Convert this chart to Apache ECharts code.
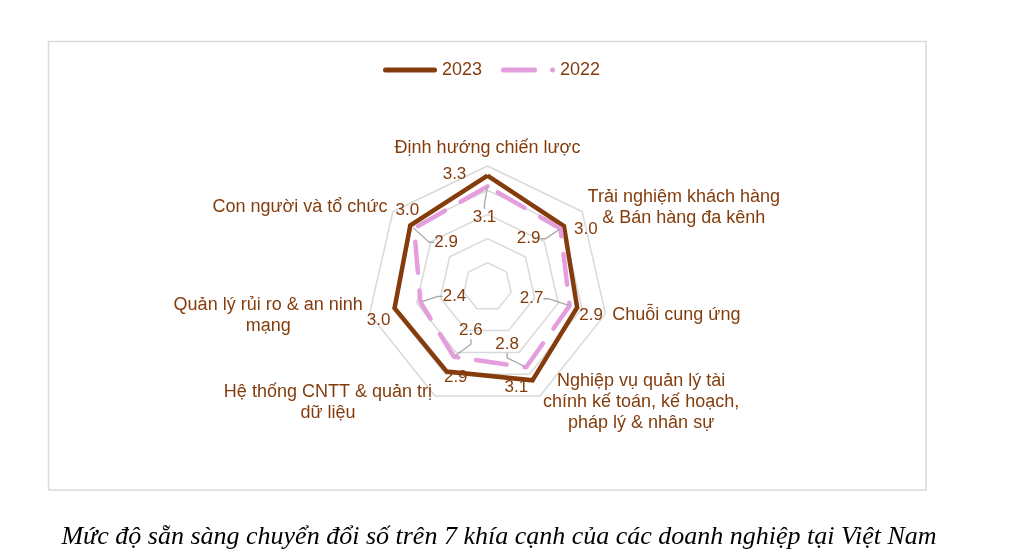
<!DOCTYPE html>
<html>
<head>
<meta charset="utf-8">
<script src="https://cdn.jsdelivr.net/npm/echarts@6/dist/echarts.min.js"></script>
<style>
html,body{margin:0;padding:0;background:#fff;}
#chart{width:1010px;height:554px;}
</style>
</head>
<body>
<div id="chart"></div>
<script>
// Indicators in clockwise order starting at the top
const categories = [
  'Định hướng chiến lược',
  'Trải nghiệm khách hàng\n& Bán hàng đa kênh',
  'Chuỗi cung ứng',
  'Nghiệp vụ quản lý tài\nchính kế toán, kế hoạch,\npháp lý & nhân sự',
  'Hệ thống CNTT & quản trị\ndữ liệu',
  'Quản lý rủi ro & an ninh\nmạng',
  'Con người và tổ chức'
];
const values2023 = [3.30, 3.02, 2.90, 3.14, 2.94, 2.97, 3.04];
const values2022 = [3.08, 2.93, 2.74, 2.84, 2.60, 2.42, 2.94];
const seriesNames = ['2023', '2022'];
const axisMin = 1;
const axisMax = 3.5;
const caption = 'Mức độ sẵn sàng chuyển đổi số trên 7 khía cạnh của các doanh nghiệp tại Việt Nam';

// ---- layout / style ----
const CX = 487.5, CY = 287, R = 121;
const BROWN = '#843C0C', PINK = '#E59EDD';
const FONT = '"Liberation Sans", Arial, sans-serif';
// label offsets (px) from the vertex, per series, per indicator (clockwise order)
const LABEL_OFFSETS = [
  [[-33, -1], [22, 3], [14, 8], [-16, 7], [9, 6], [-16, 12], [-3, -15]],
  [[-3, 31], [-32, 10], [-38, -7], [-19, -23], [17, -26], [34, -6], [32, 14]]
];

// ECharts places indicators counter-clockwise: reorder so they read clockwise
const order = [0, 6, 5, 4, 3, 2, 1];
const indicators = order.map(i => ({ name: categories[i], min: axisMin, max: axisMax }));
const reorder = arr => order.map(i => arr[i]);

const chart = echarts.init(document.getElementById('chart'));
chart.setOption({
  animation: false,
  backgroundColor: '#fff',
  title: {
    text: caption,
    left: 494,
    textAlign: 'center',
    top: 519,
    textStyle: { fontFamily: '"Liberation Serif", "Times New Roman", serif', fontStyle: 'italic', fontWeight: 'normal', fontSize: 26, color: '#000' }
  },
  graphic: [{
    type: 'rect', z: -10, silent: true,
    shape: { x: 48.5, y: 41.5, width: 877.5, height: 448.5 },
    style: { fill: 'none', stroke: '#D9D9D9', lineWidth: 1.5 }
  }],
  legend: {
    left: 378, top: 56,
    itemWidth: 54, itemHeight: 5, itemGap: 19,
    textStyle: { color: BROWN, fontSize: 18, fontFamily: FONT },
    data: [
      { name: seriesNames[0], icon: 'path://M2.5,0 h49 a2.5,2.5 0 0 1 0,5 h-49 a2.5,2.5 0 0 1 0,-5 z' },
      { name: seriesNames[1], icon: 'path://M2.5,0 h31 a2.5,2.5 0 0 1 0,5 h-31 a2.5,2.5 0 0 1 0,-5 z M51.5,0 a2.5,2.5 0 1 1 0,5 a2.5,2.5 0 1 1 0,-5 z' }
    ]
  },
  radar: {
    center: [CX, CY],
    radius: R,
    startAngle: 90,
    shape: 'polygon',
    splitNumber: 5,
    indicator: indicators,
    nameGap: 7,
    axisName: {
      color: BROWN, fontSize: 18, fontFamily: FONT, lineHeight: 21,
      formatter: name => name.split('\n').map(s => '{c|' + s + '}').join('\n'),
      rich: { c: { align: 'center', color: BROWN, fontSize: 18, fontFamily: FONT, lineHeight: 21 } }
    },
    axisLine: { show: false },
    axisTick: { show: false },
    axisLabel: { show: false },
    splitArea: { show: false },
    splitLine: { lineStyle: { color: '#D9D9D9', width: 1.5 } }
  },
  series: [{
    type: 'radar',
    symbol: 'circle',
    symbolSize: 2,
    label: {
      show: true,
      color: BROWN,
      fontSize: 17,
      fontFamily: FONT,
      formatter: p => {
        const v = Array.isArray(p.value) ? p.value[0] : p.value;
        return Number(v).toFixed(1);
      }
    },
    labelLayout: function (p) {
      const vx = p.rect.x + p.rect.width / 2;
      const vy = p.rect.y + p.rect.height / 2;
      let a = Math.atan2(vx - CX, -(vy - CY));
      if (a < 0) a += Math.PI * 2;
      const k = Math.round(a / (Math.PI * 2 / 7)) % 7;
      const off = LABEL_OFFSETS[p.dataIndex][k];
      return { x: vx + off[0], y: vy + off[1], align: 'center', verticalAlign: 'middle' };
    },
    data: [
      {
        name: seriesNames[0],
        value: reorder(values2023),
        itemStyle: { color: BROWN },
        lineStyle: { color: BROWN, width: 4.5, join: 'miter' },
        labelLine: { show: false }
      },
      {
        name: seriesNames[1],
        value: reorder(values2022),
        itemStyle: { color: PINK },
        lineStyle: { color: PINK, width: 4.5, type: [31, 18], cap: 'round', join: 'round' },
        labelLine: { show: true, length2: 5, lineStyle: { color: '#A6A6A6', width: 1.3 } }
      }
    ]
  }]
});
</script>
</body>
</html>
